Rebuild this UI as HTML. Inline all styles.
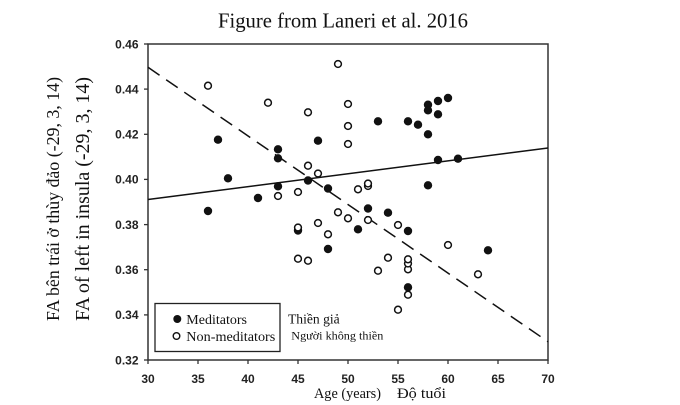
<!DOCTYPE html>
<html><head><meta charset="utf-8"><style>
html,body{margin:0;padding:0;background:#fff;}
svg{display:block;}
</style></head><body>
<svg width="680" height="405" viewBox="0 0 680 405" xmlns="http://www.w3.org/2000/svg">
<rect width="680" height="405" fill="#fff"/>
<!-- title -->
<text x="218" y="27.5" font-family="Liberation Serif, serif" font-size="21" fill="#111" textLength="250" lengthAdjust="spacingAndGlyphs">Figure from Laneri et al. 2016</text>
<!-- y labels -->
<text transform="translate(59,199) rotate(-90)" text-anchor="middle" font-family="Liberation Serif, 'Noto Serif CJK SC', serif" font-size="17.7" fill="#111" textLength="244" lengthAdjust="spacingAndGlyphs">FA bên trái ở thùy đảo (-29, 3, 14)</text>
<text transform="translate(89,199) rotate(-90)" text-anchor="middle" font-family="Liberation Serif, serif" font-size="19.7" fill="#111" textLength="244" lengthAdjust="spacingAndGlyphs">FA of left in insula (-29, 3, 14)</text>
<!-- frame -->
<rect x="148" y="44" width="400" height="316" fill="none" stroke="#333" stroke-width="1.5"/>
<!-- ticks -->
<g stroke="#333" stroke-width="1.3">
<line x1="144" y1="44" x2="148" y2="44"/><line x1="144" y1="89.1" x2="148" y2="89.1"/><line x1="144" y1="134.3" x2="148" y2="134.3"/><line x1="144" y1="179.4" x2="148" y2="179.4"/><line x1="144" y1="224.6" x2="148" y2="224.6"/><line x1="144" y1="269.7" x2="148" y2="269.7"/><line x1="144" y1="314.9" x2="148" y2="314.9"/><line x1="144" y1="360" x2="148" y2="360"/>
<line x1="148" y1="360" x2="148" y2="364"/><line x1="198" y1="360" x2="198" y2="364"/><line x1="248" y1="360" x2="248" y2="364"/><line x1="298" y1="360" x2="298" y2="364"/><line x1="348" y1="360" x2="348" y2="364"/><line x1="398" y1="360" x2="398" y2="364"/><line x1="448" y1="360" x2="448" y2="364"/><line x1="498" y1="360" x2="498" y2="364"/><line x1="548" y1="360" x2="548" y2="364"/>
</g>
<g font-family="Liberation Sans, sans-serif" font-weight="bold" font-size="12" fill="#222" text-anchor="end">
<text x="138.5" y="48.3">0.46</text><text x="138.5" y="93.4">0.44</text><text x="138.5" y="138.6">0.42</text><text x="138.5" y="183.7">0.40</text><text x="138.5" y="228.9">0.38</text><text x="138.5" y="274">0.36</text><text x="138.5" y="319.2">0.34</text><text x="138.5" y="364.3">0.32</text>
</g>
<g font-family="Liberation Sans, sans-serif" font-weight="bold" font-size="12" fill="#222" text-anchor="middle">
<text x="148" y="383">30</text><text x="198" y="383">35</text><text x="248" y="383">40</text><text x="298" y="383">45</text><text x="348" y="383">50</text><text x="398" y="383">55</text><text x="448" y="383">60</text><text x="498" y="383">65</text><text x="548" y="383">70</text>
</g>
<!-- x label -->
<text x="314" y="398" font-family="Liberation Serif, serif" font-size="15" fill="#111" textLength="67" lengthAdjust="spacingAndGlyphs">Age (years)</text>
<text x="397" y="398" font-family="Liberation Serif, serif" font-size="15" fill="#111" textLength="49" lengthAdjust="spacingAndGlyphs">Độ tuổi</text>
<!-- regression lines -->
<line x1="148" y1="199.5" x2="548" y2="148" stroke="#111" stroke-width="1.5"/>
<line x1="148" y1="67.3" x2="548" y2="341.7" stroke="#111" stroke-width="1.5" stroke-dasharray="14,8"/>
<!-- meditators -->
<g fill="#111">
<circle cx="208" cy="211" r="4.2"/><circle cx="218" cy="139.7" r="4.2"/><circle cx="228" cy="178.3" r="4.2"/><circle cx="258" cy="198" r="4.2"/>
<circle cx="278" cy="149.3" r="4.2"/><circle cx="278" cy="158.3" r="4.2"/><circle cx="278" cy="186.3" r="4.2"/><circle cx="298" cy="230.5" r="4.2"/>
<circle cx="308" cy="180.5" r="4.2"/><circle cx="318" cy="140.7" r="4.2"/><circle cx="328" cy="188.5" r="4.2"/><circle cx="328" cy="249" r="4.2"/>
<circle cx="358" cy="229.3" r="4.2"/><circle cx="368" cy="208.5" r="4.2"/><circle cx="378" cy="121.3" r="4.2"/><circle cx="388" cy="212.7" r="4.2"/>
<circle cx="408" cy="121.3" r="4.2"/><circle cx="408" cy="231" r="4.2"/><circle cx="408" cy="287.3" r="4.2"/><circle cx="418" cy="124.7" r="4.2"/>
<circle cx="428" cy="104.7" r="4.2"/><circle cx="428" cy="110.3" r="4.2"/><circle cx="428" cy="134.3" r="4.2"/><circle cx="428" cy="185.3" r="4.2"/>
<circle cx="438" cy="101" r="4.2"/><circle cx="438" cy="114.3" r="4.2"/><circle cx="438" cy="160" r="4.2"/><circle cx="448" cy="98" r="4.2"/>
<circle cx="458" cy="158.7" r="4.2"/><circle cx="488" cy="250.3" r="4.2"/>
</g>
<!-- non-meditators -->
<g fill="#fff" stroke="#111" stroke-width="1.5">
<circle cx="208" cy="85.7" r="3.4"/><circle cx="268" cy="102.7" r="3.4"/><circle cx="308" cy="112.3" r="3.4"/><circle cx="338" cy="64" r="3.4"/>
<circle cx="348" cy="104" r="3.4"/><circle cx="348" cy="126" r="3.4"/><circle cx="348" cy="144" r="3.4"/><circle cx="308" cy="165.7" r="3.4"/>
<circle cx="318" cy="173.5" r="3.4"/><circle cx="298" cy="192" r="3.4"/><circle cx="278" cy="196" r="3.4"/><circle cx="298" cy="227.5" r="3.4"/>
<circle cx="298" cy="258.7" r="3.4"/><circle cx="308" cy="260.7" r="3.4"/><circle cx="318" cy="223" r="3.4"/><circle cx="328" cy="234.3" r="3.4"/>
<circle cx="338" cy="212.3" r="3.4"/><circle cx="348" cy="218.3" r="3.4"/><circle cx="358" cy="189.3" r="3.4"/><circle cx="368" cy="186" r="3.4"/>
<circle cx="368" cy="183.5" r="3.4"/><circle cx="368" cy="220" r="3.4"/><circle cx="378" cy="270.7" r="3.4"/><circle cx="388" cy="257.7" r="3.4"/>
<circle cx="398" cy="225" r="3.4"/><circle cx="398" cy="309.7" r="3.4"/><circle cx="408" cy="269.3" r="3.4"/><circle cx="408" cy="263.5" r="3.4"/>
<circle cx="408" cy="259.3" r="3.4"/><circle cx="408" cy="294.7" r="3.4"/><circle cx="448" cy="245" r="3.4"/><circle cx="478" cy="274.3" r="3.4"/>
</g>
<!-- legend -->
<rect x="155" y="303.5" width="125" height="48" fill="#fff" stroke="#222" stroke-width="1.3"/>
<circle cx="177.3" cy="319" r="4" fill="#111"/>
<circle cx="176.5" cy="336" r="3.3" fill="#fff" stroke="#111" stroke-width="1.4"/>
<text x="186.3" y="323.8" font-family="Liberation Serif, serif" font-size="14" fill="#111" textLength="60.7" lengthAdjust="spacingAndGlyphs">Meditators</text>
<text x="186.3" y="340.8" font-family="Liberation Serif, serif" font-size="14" fill="#111" textLength="89" lengthAdjust="spacingAndGlyphs">Non-meditators</text>
<text x="288" y="323.5" font-family="Liberation Serif, serif" font-size="13.5" fill="#111" textLength="51.7" lengthAdjust="spacingAndGlyphs">Thiền giả</text>
<text x="291.3" y="339.5" font-family="Liberation Serif, serif" font-size="11.5" fill="#111" textLength="92" lengthAdjust="spacingAndGlyphs">Người không thiền</text>
</svg>
</body></html>
